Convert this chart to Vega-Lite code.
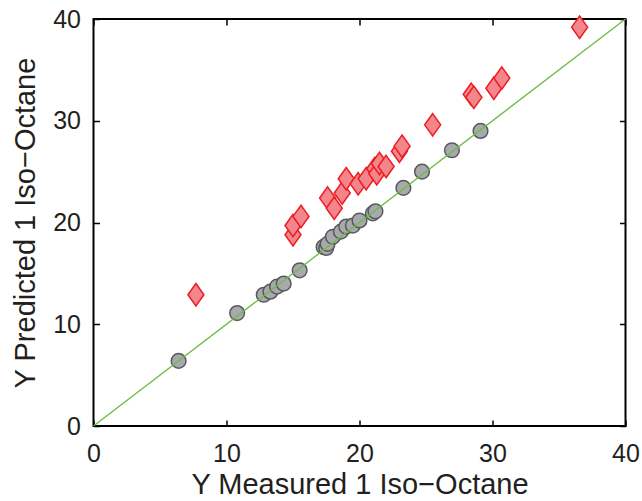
{
  "$schema": "https://vega.github.io/schema/vega-lite/v6.json",
  "width": 532,
  "height": 407,
  "autosize": {"type": "none"},
  "padding": {"left": 93.5, "top": 19, "right": 16.5, "bottom": 75},
  "background": "white",
  "config": {
    "view": {"stroke": "black", "strokeWidth": 2},
    "font": "Liberation Sans",
    "axis": {
      "grid": false,
      "domain": false,
      "tickColor": "black",
      "tickWidth": 1.5,
      "tickSize": -6,
      "labelFlush": false,
      "labelFont": "Liberation Sans",
      "labelFontSize": 25,
      "labelColor": "#231f20",
      "titleFont": "Liberation Sans",
      "titleFontSize": 29,
      "titleFontWeight": "normal",
      "titleColor": "#231f20"
    }
  },
  "datasets": {
    "pts": [
      {"measured": 6.4, "predicted": 6.4, "series": "circle"},
      {"measured": 10.8, "predicted": 11.1, "series": "circle"},
      {"measured": 12.8, "predicted": 12.9, "series": "circle"},
      {"measured": 13.3, "predicted": 13.2, "series": "circle"},
      {"measured": 13.8, "predicted": 13.7, "series": "circle"},
      {"measured": 14.3, "predicted": 14.0, "series": "circle"},
      {"measured": 15.5, "predicted": 15.3, "series": "circle"},
      {"measured": 17.3, "predicted": 17.6, "series": "circle"},
      {"measured": 17.5, "predicted": 17.5, "series": "circle"},
      {"measured": 17.6, "predicted": 17.9, "series": "circle"},
      {"measured": 18.0, "predicted": 18.6, "series": "circle"},
      {"measured": 18.6, "predicted": 19.1, "series": "circle"},
      {"measured": 19.0, "predicted": 19.6, "series": "circle"},
      {"measured": 19.5, "predicted": 19.7, "series": "circle"},
      {"measured": 20.0, "predicted": 20.2, "series": "circle"},
      {"measured": 21.0, "predicted": 20.9, "series": "circle"},
      {"measured": 21.2, "predicted": 21.1, "series": "circle"},
      {"measured": 23.3, "predicted": 23.4, "series": "circle"},
      {"measured": 24.7, "predicted": 25.0, "series": "circle"},
      {"measured": 26.95, "predicted": 27.1, "series": "circle"},
      {"measured": 29.1, "predicted": 29.0, "series": "circle"},
      {"measured": 7.7, "predicted": 12.9, "series": "diamond"},
      {"measured": 15.0, "predicted": 18.8, "series": "diamond"},
      {"measured": 15.0, "predicted": 19.7, "series": "diamond"},
      {"measured": 15.6, "predicted": 20.6, "series": "diamond"},
      {"measured": 17.6, "predicted": 22.4, "series": "diamond"},
      {"measured": 18.1, "predicted": 21.4, "series": "diamond"},
      {"measured": 18.7, "predicted": 22.9, "series": "diamond"},
      {"measured": 19.0, "predicted": 24.3, "series": "diamond"},
      {"measured": 19.9, "predicted": 23.8, "series": "diamond"},
      {"measured": 20.5, "predicted": 24.3, "series": "diamond"},
      {"measured": 21.15, "predicted": 25.3, "series": "diamond"},
      {"measured": 21.3, "predicted": 24.8, "series": "diamond"},
      {"measured": 21.5, "predicted": 25.8, "series": "diamond"},
      {"measured": 22.0, "predicted": 25.5, "series": "diamond"},
      {"measured": 23.0, "predicted": 27.0, "series": "diamond"},
      {"measured": 23.2, "predicted": 27.5, "series": "diamond"},
      {"measured": 25.5, "predicted": 29.6, "series": "diamond"},
      {"measured": 28.4, "predicted": 32.6, "series": "diamond"},
      {"measured": 28.6, "predicted": 32.3, "series": "diamond"},
      {"measured": 30.1, "predicted": 33.2, "series": "diamond"},
      {"measured": 30.7, "predicted": 34.2, "series": "diamond"},
      {"measured": 36.55, "predicted": 39.2, "series": "diamond"}
    ],
    "diag": [
      {"measured": 0, "predicted": 0},
      {"measured": 40, "predicted": 40}
    ]
  },
  "layer": [
    {
      "data": {"name": "pts"},
      "transform": [{"filter": "datum.series === 'circle'"}],
      "mark": {"type": "point", "shape": "circle", "filled": true, "fill": "#a7a9ac", "stroke": "#58595b", "strokeWidth": 1.5, "opacity": 1, "size": 215},
      "encoding": {
        "x": {"field": "measured", "type": "quantitative", "scale": {"domain": [0, 40], "nice": false},
              "axis": {"orient": "bottom", "values": [0, 10, 20, 30, 40], "title": "Y Measured 1 Iso\u2212Octane", "labelPadding": 21, "titlePadding": 4}},
        "y": {"field": "predicted", "type": "quantitative", "scale": {"domain": [0, 40], "nice": false},
              "axis": {"orient": "left", "values": [0, 10, 20, 30, 40], "title": "Y Predicted 1 Iso\u2212Octane", "labelPadding": 19, "titlePadding": 12}}
      }
    },
    {
      "data": {"name": "pts"},
      "transform": [{"filter": "datum.series === 'diamond'"}],
      "mark": {"type": "point", "shape": "M0,-1.4L1,0L0,1.4L-1,0Z", "filled": true, "fill": "#f3868a", "stroke": "#ed1c24", "strokeWidth": 1.5, "opacity": 1, "size": 256},
      "encoding": {
        "x": {"field": "measured", "type": "quantitative", "axis": null},
        "y": {"field": "predicted", "type": "quantitative", "axis": null}
      }
    },
    {
      "data": {"name": "diag"},
      "mark": {"type": "line", "color": "#6abd45", "strokeWidth": 1.3},
      "encoding": {
        "x": {"field": "measured", "type": "quantitative",
              "axis": {"orient": "top", "values": [0, 10, 20, 30, 40], "labels": false, "title": null}},
        "y": {"field": "predicted", "type": "quantitative",
              "axis": {"orient": "right", "values": [0, 10, 20, 30, 40], "labels": false, "title": null}}
      }
    }
  ],
  "resolve": {"axis": {"x": "independent", "y": "independent"}}
}
